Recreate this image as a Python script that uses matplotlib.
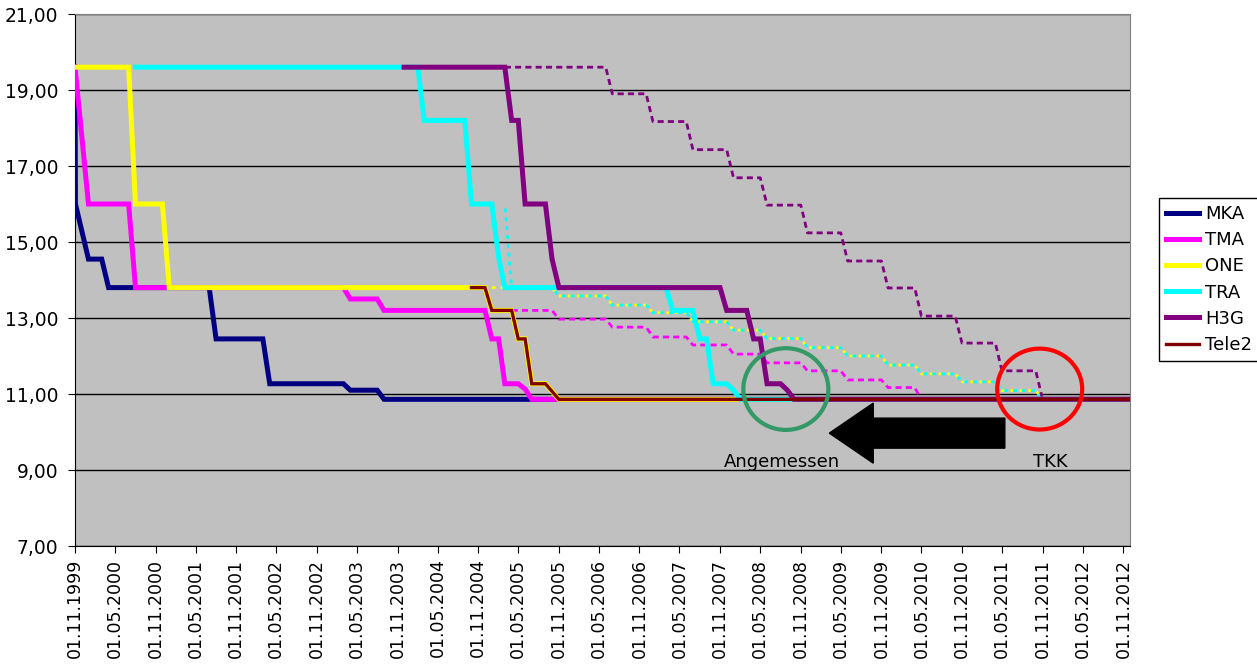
"""Mobile termination rates (Austria) 1999-2012: actual steps vs. glide paths."""

import matplotlib
matplotlib.use("Agg")
import matplotlib.pyplot as plt
import matplotlib.dates as mdates
from matplotlib.patches import Ellipse, FancyArrow
from matplotlib.ticker import FuncFormatter
import pandas as pd

plt.rcParams["font.family"] = ["DejaVu Sans"]

# --- actual rates (solid lines) -------------------------------------------
MKA_DATES = ["1999-11-01", "1999-11-03", "2000-01-01", "2000-03-01", "2000-04-01",
             "2001-07-01", "2001-08-01", "2002-03-01", "2002-04-01", "2003-03-01",
             "2003-04-01", "2003-08-01", "2003-09-01", "2012-12-01"]
MKA = [19.6, 16.0, 14.55, 14.55, 13.8, 13.8, 12.45, 12.45, 11.27, 11.27,
       11.1, 11.1, 10.86, 10.86]

TMA_DATES = ["1999-11-01", "2000-01-01", "2000-07-01", "2000-08-01", "2003-03-01",
             "2003-04-01", "2003-08-01", "2003-09-01", "2004-12-01", "2005-01-01",
             "2005-02-01", "2005-03-01", "2005-05-01", "2005-06-01", "2005-07-01",
             "2012-12-01"]
TMA = [19.6, 16.0, 16.0, 13.8, 13.8, 13.5, 13.5, 13.2, 13.2, 12.45,
       12.45, 11.27, 11.27, 11.13, 10.86, 10.86]

ONE_DATES = ["1999-11-01", "2000-07-01", "2000-08-01", "2000-12-01", "2001-01-01",
             "2004-12-01", "2005-01-01", "2005-04-01", "2005-05-01", "2005-06-01",
             "2005-07-01", "2005-09-01", "2005-11-01", "2012-12-01"]
ONE = [19.6, 19.6, 16.0, 16.0, 13.8, 13.8, 13.2, 13.2, 12.45, 12.45,
       11.27, 11.27, 10.86, 10.86]

TRA_DATES = ["2000-08-01", "2004-02-01", "2004-03-01", "2004-09-01", "2004-10-01",
             "2005-01-01", "2005-02-01", "2005-03-01", "2007-03-01", "2007-04-01",
             "2007-07-01", "2007-08-01", "2007-09-01", "2007-10-01", "2007-12-01",
             "2008-01-01", "2008-02-01", "2012-12-01"]
TRA = [19.6, 19.6, 18.2, 18.2, 16.0, 16.0, 14.6, 13.8, 13.8, 13.2,
       13.2, 12.45, 12.45, 11.27, 11.27, 11.1, 10.86, 10.86]

H3G_DATES = ["2003-12-01", "2005-03-01", "2005-04-01", "2005-05-01", "2005-06-01",
             "2005-09-01", "2005-10-01", "2005-11-01", "2007-11-01", "2007-12-01",
             "2008-03-01", "2008-04-01", "2008-05-01", "2008-06-01", "2008-08-01",
             "2008-09-01", "2008-10-01", "2012-12-01"]
H3G = [19.6, 19.6, 18.2, 18.2, 16.0, 16.0, 14.55, 13.8, 13.8, 13.2,
       13.2, 12.45, 12.45, 11.27, 11.27, 11.1, 10.86, 10.86]

TELE2_DATES = ["2004-10-01", "2004-12-01", "2005-01-01", "2005-04-01", "2005-05-01",
               "2005-06-01", "2005-07-01", "2005-09-01", "2005-11-01", "2012-12-01"]
TELE2 = [13.8, 13.8, 13.2, 13.2, 12.45, 12.45, 11.27, 11.27, 10.86, 10.86]

# --- glide paths (dotted lines) -------------------------------------------
TMA_PLAN_DATES = ["2005-04-01", "2005-10-01", "2005-11-01", "2006-06-01", "2006-07-01",
                  "2006-12-01", "2007-01-01", "2007-06-01", "2007-07-01", "2007-12-01",
                  "2008-01-01", "2008-05-01", "2008-06-01", "2008-11-01", "2008-12-01",
                  "2009-05-01", "2009-06-01", "2009-11-01", "2009-12-01", "2010-04-01",
                  "2010-05-01"]
TMA_PLAN = [13.2, 13.2, 12.97, 12.97, 12.76, 12.76, 12.5, 12.5, 12.29, 12.29,
            12.05, 12.05, 11.82, 11.82, 11.61, 11.61, 11.37, 11.37, 11.17, 11.17,
            10.86]

STEP_DATES = ["2005-10-01", "2005-11-01", "2006-06-01", "2006-07-01", "2006-12-01",
              "2007-01-01", "2007-06-01", "2007-07-01", "2007-12-01", "2008-01-01",
              "2008-05-01", "2008-06-01", "2008-11-01", "2008-12-01", "2009-05-01",
              "2009-06-01", "2009-11-01", "2009-12-01", "2010-04-01", "2010-05-01",
              "2010-10-01", "2010-11-01", "2011-04-01", "2011-05-01", "2011-10-01",
              "2011-11-01"]
ONE_TRA_STEPS = [13.8, 13.58, 13.58, 13.34, 13.34, 13.14, 13.14, 12.9, 12.9, 12.68,
                 12.68, 12.46, 12.46, 12.22, 12.22, 12.0, 12.0, 11.76, 11.76, 11.53,
                 11.53, 11.32, 11.32, 11.09, 11.09, 10.86]
ONE_PLAN_DATES = ["2005-01-01"] + STEP_DATES
ONE_PLAN = [13.8] + ONE_TRA_STEPS
TRA_PLAN_DATES = ["2005-03-01", "2005-04-01"] + STEP_DATES
TRA_PLAN = [16.0, 13.8] + ONE_TRA_STEPS

H3G_PLAN_DATES = ["2005-03-01", "2006-06-01", "2006-07-01", "2006-12-01", "2007-01-01",
                  "2007-06-01", "2007-07-01", "2007-12-01", "2008-01-01", "2008-05-01",
                  "2008-06-01", "2008-11-01", "2008-12-01", "2009-05-01", "2009-06-01",
                  "2009-11-01", "2009-12-01", "2010-04-01", "2010-05-01", "2010-10-01",
                  "2010-11-01", "2011-04-01", "2011-05-01", "2011-10-01", "2011-11-01"]
H3G_PLAN = [19.6, 19.6, 18.9, 18.9, 18.17, 18.17, 17.43, 17.43, 16.69, 16.69,
            15.97, 15.97, 15.24, 15.24, 14.5, 14.5, 13.79, 13.79, 13.05, 13.05,
            12.34, 12.34, 11.61, 11.61, 10.86]

COLORS = {"MKA": "#000080", "TMA": "#FF00FF", "ONE": "#FFFF00",
          "TRA": "#00FFFF", "H3G": "#800080", "Tele2": "#800000"}


def d(dates):
    return pd.to_datetime(dates)


fig = plt.figure(figsize=(12.57, 6.65), dpi=100)
ax = fig.add_axes([75 / 1257, 119 / 665, 1055 / 1257, 532 / 665])
ax.set_facecolor("#C0C0C0")

# dotted glide paths first, solids on top
dot = (0, (2.2, 1.5))
ax.plot(d(TMA_PLAN_DATES), TMA_PLAN, color=COLORS["TMA"], lw=2, ls=dot, zorder=2)
ax.plot(d(ONE_PLAN_DATES), ONE_PLAN, color=COLORS["ONE"], lw=2,
        ls=(0, (1.4, 1.8)), zorder=2)
ax.plot(d(TRA_PLAN_DATES), TRA_PLAN, color=COLORS["TRA"], lw=2,
        ls=(1.6, (1.4, 1.8)), zorder=2)
ax.plot(d(H3G_PLAN_DATES), H3G_PLAN, color=COLORS["H3G"], lw=2, ls=dot, zorder=2)

series = [("MKA", MKA_DATES, MKA, 3.6), ("TMA", TMA_DATES, TMA, 3.6),
          ("ONE", ONE_DATES, ONE, 3.6), ("TRA", TRA_DATES, TRA, 3.6),
          ("H3G", H3G_DATES, H3G, 3.6), ("Tele2", TELE2_DATES, TELE2, 2.4)]
handles = []
for i, (name, dates, vals, lw) in enumerate(series):
    ln, = ax.plot(d(dates), vals, color=COLORS[name], lw=lw, label=name,
                  zorder=3 + i, solid_joinstyle="miter")
    handles.append(ln)

# axes
ax.set_ylim(7, 21)
ax.set_yticks(range(7, 22, 2))
ax.yaxis.set_major_formatter(FuncFormatter(lambda v, _: f"{v:.2f}".replace(".", ",")))
ax.grid(axis="y", color="black", lw=1, zorder=1)
ax.set_axisbelow(True)

ax.set_xlim(pd.Timestamp("1999-11-01"), pd.Timestamp("2012-12-01"))
ax.set_xticks(pd.date_range("1999-11-01", "2012-11-01", freq="6MS"))
ax.xaxis.set_major_formatter(mdates.DateFormatter("%d.%m.%Y"))
ax.tick_params(axis="x", rotation=90, labelsize=12.5, length=5, pad=4)
ax.tick_params(axis="y", labelsize=13.5, length=5, pad=7)

for side in ("left", "bottom"):
    ax.spines[side].set_color("black")
for side in ("top", "right"):
    ax.spines[side].set_color("#808080")

# annotations
ax.add_patch(Ellipse((mdates.date2num(pd.Timestamp("2008-08-25")), 11.13),
                     width=385, height=2.15, fill=False, edgecolor="#339966",
                     lw=3, zorder=10))
ax.add_patch(Ellipse((mdates.date2num(pd.Timestamp("2011-10-19")), 11.13),
                     width=385, height=2.13, fill=False, edgecolor="#FF0000",
                     lw=3, zorder=10))
tail = mdates.date2num(pd.Timestamp("2011-05-14"))
tip = mdates.date2num(pd.Timestamp("2009-03-10"))
ax.add_patch(FancyArrow(tail, 9.97, tip - tail, 0, width=0.79, head_width=1.58,
                        head_length=199, length_includes_head=True,
                        color="black", zorder=10))
ax.text(pd.Timestamp("2008-08-09"), 9.21, "Angemessen", fontsize=13,
        ha="center", va="center", zorder=11)
ax.text(pd.Timestamp("2011-12-08"), 9.21, "TKK", fontsize=13,
        ha="center", va="center", zorder=11)

leg = fig.legend(handles=handles, loc="upper left",
                 bbox_to_anchor=(1159 / 1257, 1 - 198 / 665),
                 fontsize=13, handlelength=1.8, handletextpad=0.35,
                 labelspacing=0.45, borderpad=0.4, borderaxespad=0,
                 fancybox=False, framealpha=1, edgecolor="black")
leg.get_frame().set_linewidth(1)

fig.savefig("out.png", dpi=100)
